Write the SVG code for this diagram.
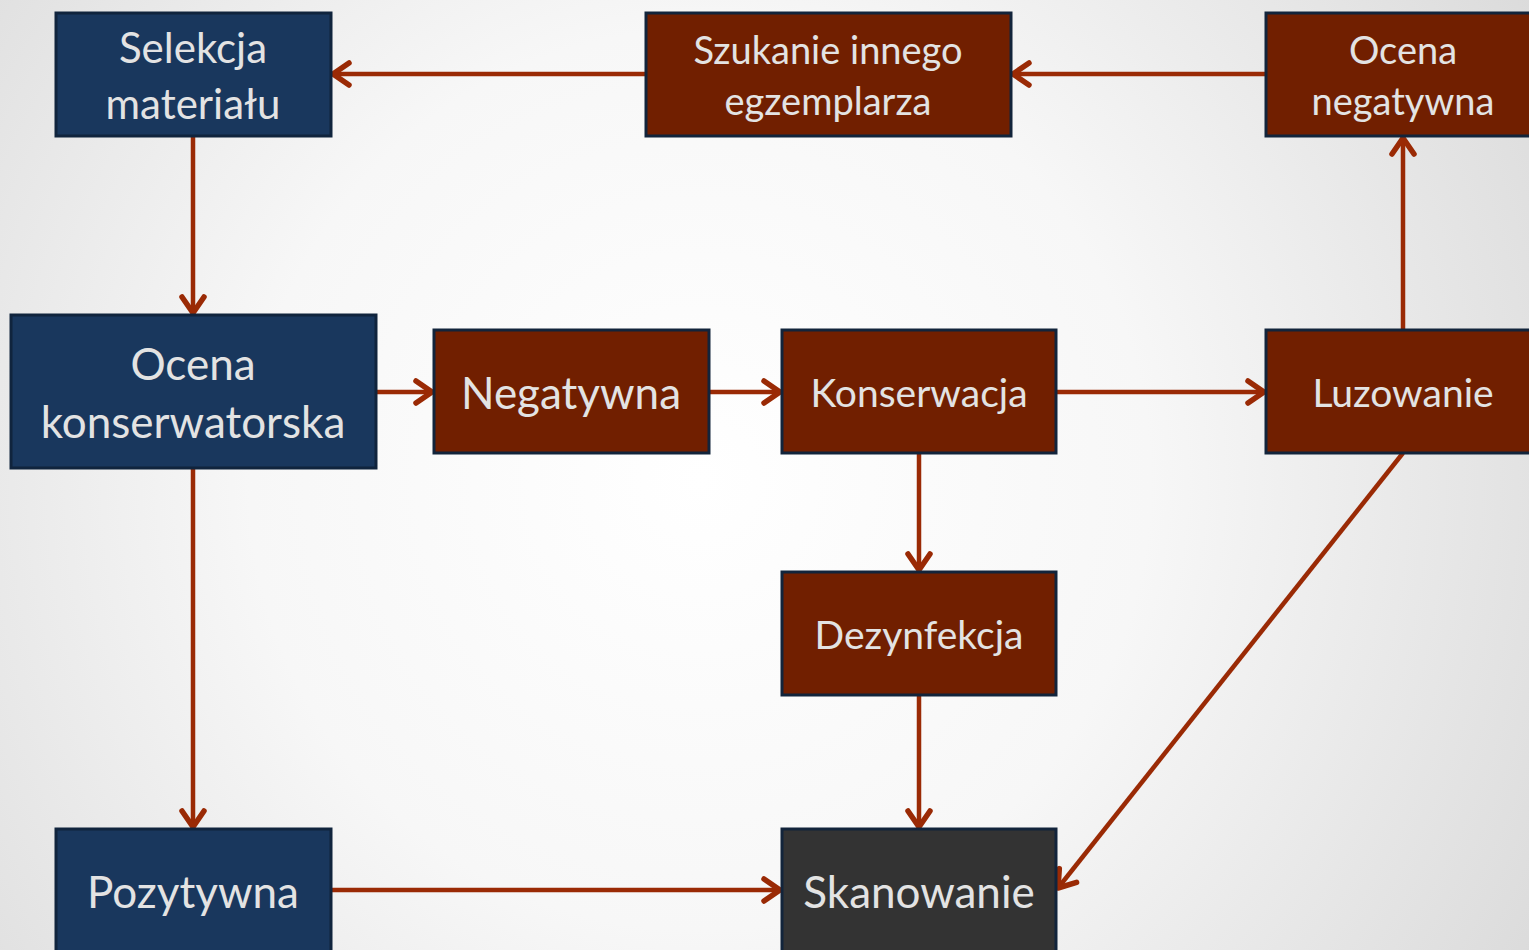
<svg xmlns="http://www.w3.org/2000/svg" width="1529" height="950" viewBox="0 0 1529 950">
<defs>
<radialGradient id="bg" cx="700" cy="480" r="1000" gradientUnits="userSpaceOnUse">
<stop offset="0" stop-color="#ffffff"/>
<stop offset="0.45" stop-color="#f7f7f7"/>
<stop offset="1" stop-color="#d9d9d9"/>
</radialGradient>
<marker id="ah" markerUnits="userSpaceOnUse" markerWidth="44" markerHeight="44" viewBox="-22 -22 44 44" refX="-1" refY="0" orient="auto">
<path d="M-17,-11 L-1,0 L-17,11" fill="none" stroke="#9a2a05" stroke-width="5.5" stroke-linecap="round" stroke-linejoin="round"/>
</marker>
<style>
.blue{fill:#19375d;stroke:#10243d;stroke-width:3}
.red{fill:#711f00;stroke:#12243b;stroke-width:3}
.gray{fill:#333333;stroke:#12243b;stroke-width:3}
text{font-family:"Gill Sans","Lato","Open Sans",sans-serif;fill:#e3e3e3;text-anchor:middle}
.c{fill:none;stroke:#9a2a05;stroke-width:4.5;marker-end:url(#ah)}
</style>
</defs>
<rect width="1529" height="950" fill="url(#bg)"/>
<g id="connectors">
<path class="c" d="M646,74 H333"/>
<path class="c" d="M1266,74 H1013"/>
<path class="c" d="M193,136 V313"/>
<path class="c" d="M376,392 H432"/>
<path class="c" d="M709,392 H780"/>
<path class="c" d="M1056,392 H1264"/>
<path class="c" d="M1403,330 V138"/>
<path class="c" d="M919,453 V570"/>
<path class="c" d="M919,695 V827"/>
<path class="c" d="M193,468 V827"/>
<path class="c" d="M331,890 H780"/>
<path class="c" d="M1403,453 L1058,888"/>
</g>
<g id="selekcja"><rect class="blue" x="56" y="13" width="275" height="123"/><text x="193" y="63" font-size="42">Selekcja</text><text x="193" y="119" font-size="42">materiału</text></g>
<g id="szukanie"><rect class="red" x="646" y="13" width="365" height="123"/><text x="828" y="64" font-size="38">Szukanie innego</text><text x="828" y="115" font-size="38">egzemplarza</text></g>
<g id="ocena-negatywna"><rect class="red" x="1266" y="13" width="275" height="123"/><text x="1403" y="64" font-size="38">Ocena</text><text x="1403" y="115" font-size="38">negatywna</text></g>
<g id="ocena-konserwatorska"><rect class="blue" x="11" y="315" width="365" height="153"/><text x="193" y="380" font-size="44">Ocena</text><text x="193" y="438" font-size="44">konserwatorska</text></g>
<g id="negatywna"><rect class="red" x="434" y="330" width="275" height="123"/><text x="571" y="409" font-size="44">Negatywna</text></g>
<g id="konserwacja"><rect class="red" x="782" y="330" width="274" height="123"/><text x="919" y="407" font-size="39">Konserwacja</text></g>
<g id="luzowanie"><rect class="red" x="1266" y="330" width="275" height="123"/><text x="1403" y="407" font-size="39">Luzowanie</text></g>
<g id="dezynfekcja"><rect class="red" x="782" y="572" width="274" height="123"/><text x="919" y="649" font-size="39">Dezynfekcja</text></g>
<g id="pozytywna"><rect class="blue" x="56" y="829" width="275" height="124"/><text x="193" y="908" font-size="44">Pozytywna</text></g>
<g id="skanowanie"><rect class="gray" x="782" y="829" width="274" height="124"/><text x="919" y="908" font-size="44">Skanowanie</text></g>
</svg>
